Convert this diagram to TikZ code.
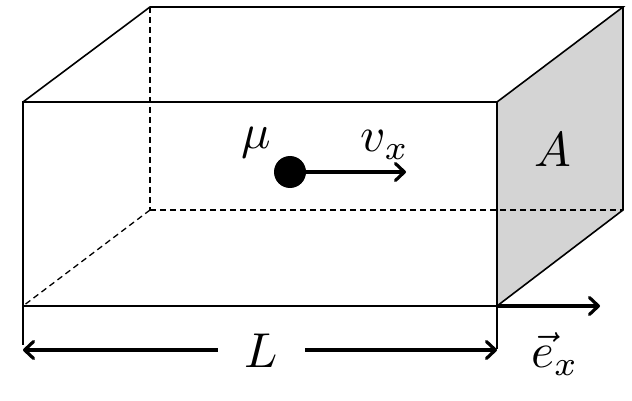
\documentclass[tikz,border=0pt]{standalone}
\usetikzlibrary{arrows.meta}
\tikzset{
  edge/.style={draw=black,line width=1.6pt},
  hidden/.style={draw=black,line width=1.3pt,dash pattern=on 6pt off 4pt},
  vec/.style={draw=black,line width=3.4pt,-{Straight Barb[length=9pt,width=17pt,line width=3.2pt,round]}},
  dimvec/.style={draw=black,line width=3.4pt,{Straight Barb[length=9pt,width=17pt,line width=3.2pt,round]}-},
  lab/.style={inner sep=0pt}
}
\newcommand{\biglab}[1]{\scalebox{4.9}{$#1$}}
\begin{document}
\begin{tikzpicture}[x=1pt,y=-1pt]
\useasboundingbox (0,0) rectangle (632,401);
\coordinate (ftl) at (23,102);
\coordinate (ftr) at (497,102);
\coordinate (fbl) at (23,306);
\coordinate (fbr) at (497,306);
\coordinate (btl) at (150,7);
\coordinate (btr) at (623,7);
\coordinate (bbl) at (150,210);
\coordinate (bbr) at (623,210);
\fill[black!17] (ftr)--(btr)--(bbr)--(fbr)--cycle;
\draw[edge] (ftl)--(ftr)--(fbr)--(fbl)--cycle;
\draw[edge] (ftl)--(btl)--(btr)--(ftr);
\draw[edge] (btr)--(bbr)--(fbr);
\draw[hidden] (btl)--(bbl);
\draw[hidden] (bbl)--(bbr);
\draw[hidden] (bbl)--(fbl);
\coordinate (ticka) at (23,345);
\coordinate (tickb) at (497,349);
\draw[edge] (fbl)--(ticka);
\draw[edge] (fbr)--(tickb);
\node[circle,fill=black,minimum size=32pt,inner sep=0pt] (mu) at (290,172) {};
\coordinate (vend) at (406,172);
\draw[vec] (mu.center)--(vend);
\coordinate (eend) at (600,306);
\draw[vec] (fbr)--(eend);
\node[lab] (L) at (261,351) {\biglab{L}};
\coordinate (dl) at (23,350);
\coordinate (dr) at (497,350);
\coordinate (gapl) at (218,350);
\coordinate (gapr) at (305,350);
\draw[dimvec] (dl)--(gapl);
\draw[vec] (gapr)--(dr);
\node[lab] (mulab) at (256,143) {\biglab{\mu}};
\node[lab] (vlab) at (385,145) {\biglab{v_x}};
\node[lab] (Alab) at (553,150) {\biglab{A}};
\node[lab] (elab) at (555,354) {\biglab{\vec e_x}};
\end{tikzpicture}
\end{document}
